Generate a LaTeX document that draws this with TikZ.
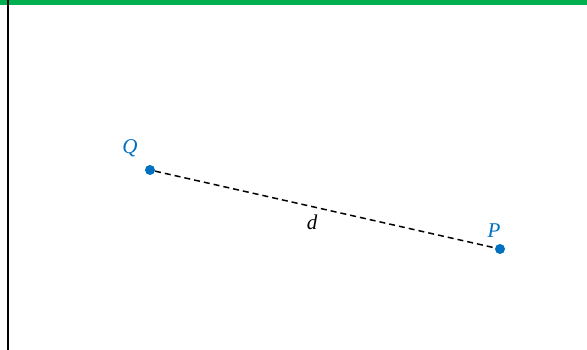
\documentclass[tikz,border=0pt]{standalone}
\usepackage{fontspec}
\setmainfont{Liberation Serif}
\usepackage{tikz}
\definecolor{ptblue}{HTML}{0070C0}
\definecolor{bargreen}{HTML}{00B050}

\begin{document}
\begin{tikzpicture}[x=1pt, y=-1pt,
        pt/.style={circle, fill=ptblue, inner sep=0pt, minimum size=10pt},
        lbl/.style={font=\itshape\fontsize{21}{21}\selectfont}]
        \useasboundingbox (0, 0) rectangle (587, 350);
        \draw[bargreen, line width=5.5pt] (0, 2.5) -- (587, 2.5);
        \draw[black, line width=2.5pt] (8, 0) -- (8, 350);
        \node[pt] (Q) at (150, 170) {};
        \node[pt] (P) at (500, 249) {};
        \draw[line width=1.5pt, dash pattern=on 6pt off 4pt] (Q) -- (P);
        \node[lbl, ptblue] (Qlbl) at (130, 148) {Q};
        \node[lbl, ptblue] (Plbl) at (494, 231) {P};
        \node[lbl] (dlbl) at (312, 222) {d};
      \end{tikzpicture}
\end{document}
